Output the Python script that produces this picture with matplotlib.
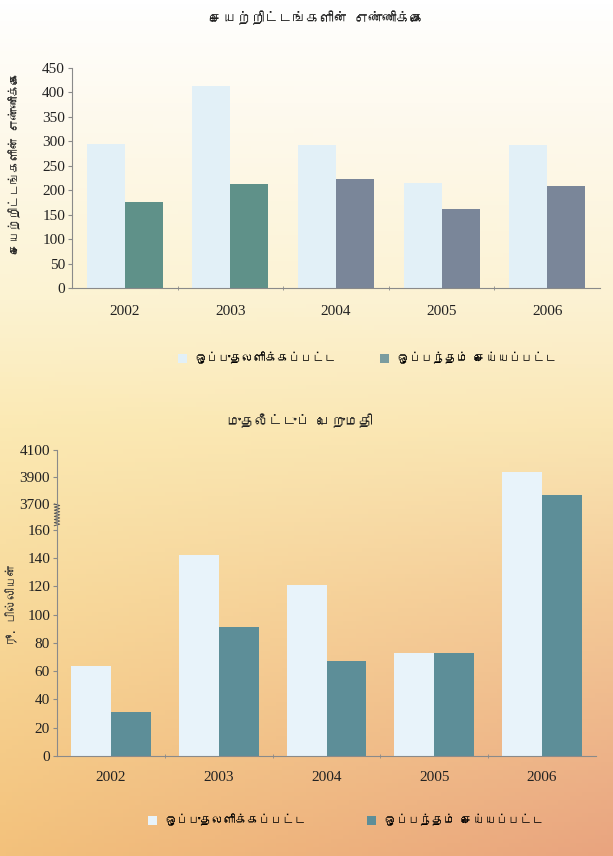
import numpy as np
import matplotlib
matplotlib.use('Agg')
import matplotlib.pyplot as plt
from matplotlib import font_manager
from matplotlib.ft2font import FT2Font
from matplotlib.colors import to_rgb

# data
years = ['2002', '2003', '2004', '2005', '2006']
approved_count = [295, 413, 292, 215, 293]
signed_count = [175, 212, 222, 161, 209]
approved_value = [64, 142, 121, 73, 3940]
signed_value = [31, 91, 67, 73, 3770]
count_ticks = [0, 50, 100, 150, 200, 250, 300, 350, 400, 450]
value_ticks = [0, 20, 40, 60, 80, 100, 120, 140, 160, 3700, 3900, 4100]

title_top = 'செயற்றிட்டங்களின் எண்ணிக்கை'
ylabel_top = 'செயற்றிட்டங்களின் எண்ணிக்கை'
title_bottom = 'முதலீட்டுப் பெறுமதி'
ylabel_bottom = 'ரூ. பில்லியன்'
label_approved = 'ஒப்புதலளிக்கப்பட்ட'
label_signed = 'ஒப்பந்தம் செய்யப்பட்ட'


def find_tamil_font():
    for f in font_manager.fontManager.ttflist:
        try:
            if 0x0B9A in FT2Font(f.fname).get_charmap():
                return f.name
        except Exception:
            pass
    return None


tamil = find_tamil_font()
tfam = [tamil, 'DejaVu Sans'] if tamil else ['DejaVu Sans']
num_font = 'Liberation Serif'

# broken y scale for the bottom chart
LOW_TOP = 170.0
BRK = 178.4
SLOPE = 0.0955


def fwd(v):
    v = np.asarray(v, float)
    return np.where(v <= LOW_TOP, v,
                    np.where(v < 3700, LOW_TOP + (v - LOW_TOP) * (BRK - LOW_TOP) / (3700 - LOW_TOP),
                             BRK + (v - 3700) * SLOPE))


def inv(u):
    u = np.asarray(u, float)
    return np.where(u <= LOW_TOP, u,
                    np.where(u < BRK, LOW_TOP + (u - LOW_TOP) * (3700 - LOW_TOP) / (BRK - LOW_TOP),
                             3700 + (u - BRK) / SLOPE))


fig = plt.figure(figsize=(6.13, 8.56), dpi=100)

# page background gradient
bg = fig.add_axes([0, 0, 1, 1], zorder=-5)
bg.axis('off')
stops = [0, 0.12, 0.35, 0.5, 0.7, 1.0]
left_cols = ['#ffffff', '#fefaef', '#fcf3d2', '#fbe9b3', '#f8da9b', '#f3c17b']
right_cols = ['#ffffff', '#fefaf0', '#fcf2d3', '#fae6b4', '#f4ca98', '#e9a47f']
rows = np.linspace(0, 1, 200)
L = np.array([np.interp(rows, stops, [to_rgb(c)[k] for c in left_cols]) for k in range(3)]).T
R = np.array([np.interp(rows, stops, [to_rgb(c)[k] for c in right_cols]) for k in range(3)]).T
cols = np.linspace(0, 1, 100)[None, :, None]
img = L[:, None, :] * (1 - cols) + R[:, None, :] * cols
bg.imshow(img, aspect='auto', extent=[0, 1, 1, 0])
bg.set_xlim(0, 1)
bg.set_ylim(1, 0)

x = np.arange(len(years))


def style_axes(ax, xpad):
    ax.set_facecolor('none')
    for s in ['top', 'right']:
        ax.spines[s].set_visible(False)
    for s in ['left', 'bottom']:
        ax.spines[s].set_color('#8a8a8a')
        ax.spines[s].set_linewidth(0.8)
    ax.set_xlim(-0.5, len(years) - 0.5)
    ax.set_xticks(x)
    ax.set_xticklabels(years, fontfamily=num_font, fontsize=11, color='#222222')
    ax.tick_params(axis='x', length=0, pad=xpad)
    ax.set_xticks(x[:-1] + 0.5, minor=True)
    ax.tick_params(axis='x', which='minor', length=3, direction='inout', color='#8a8a8a')
    ax.tick_params(axis='y', length=3, color='#8a8a8a', labelsize=11, labelcolor='#222222', pad=2)
    for lab in ax.get_yticklabels():
        lab.set_fontfamily(num_font)


# top chart: number of projects
ax1 = fig.add_axes([72 / 613, 1 - 288 / 856, 528 / 613, 220 / 856])
w1 = 0.36
top_dark = ['#5f9189', '#5f9189', '#7a8699', '#7a8699', '#7a8699']
b1 = ax1.bar(x - w1 / 2, approved_count, w1, color='#e2f0f7')
b2 = ax1.bar(x + w1 / 2, signed_count, w1, color=top_dark)
ax1.set_ylim(0, 450)
ax1.set_yticks(count_ticks)
style_axes(ax1, 12)
fig.text(317 / 613, 1 - 18 / 856, title_top, ha='center', va='center', fontsize=10, family=tfam, color='#222222')
fig.text(15 / 613, 1 - 163 / 856, ylabel_top, ha='center', va='center', rotation=90, fontsize=8.5,
         family=tfam, color='#222222')

leg_kw = dict(frameon=False, handlelength=0.8, handleheight=0.8, handletextpad=0.7,
              prop={'family': tfam, 'size': 8.5}, loc='center left', borderaxespad=0, borderpad=0)
fig.legend([b1[0]], [label_approved], bbox_to_anchor=(178 / 613, 1 - 358 / 856), **leg_kw)
fig.legend([b2[2]], [label_signed], bbox_to_anchor=(380 / 613, 1 - 358 / 856), **leg_kw)
fig.legends[-1].legend_handles[0].set_facecolor('#7a9c9f')

# bottom chart: investment value
ax2 = fig.add_axes([57 / 613, 1 - 756 / 856, 539 / 613, 306 / 856])
ax2.set_yscale('function', functions=(fwd, inv))
w2 = 0.37
b3 = ax2.bar(x - w2 / 2, approved_value, w2, color='#e8f3fa')
b4 = ax2.bar(x + w2 / 2, signed_value, w2, color='#5d8e98')
ax2.set_ylim(0, 4100)
ax2.set_yticks(value_ticks)
ax2.set_yticklabels([str(t) for t in value_ticks])
style_axes(ax2, 11)

# axis break zigzag between 160 and 3700
zz = inv(np.linspace(float(fwd(163)), float(fwd(3700)), 15))
zx = np.where(np.arange(len(zz)) % 2 == 0, -0.005, 0.005)
ax2.plot(zx, zz, color='#555555', lw=0.7, transform=ax2.get_yaxis_transform(), clip_on=False)

fig.text(300 / 613, 1 - 421 / 856, title_bottom, ha='center', va='center', fontsize=10, family=tfam,
         color='#222222')
fig.text(12 / 613, 1 - 605 / 856, ylabel_bottom, ha='center', va='center', rotation=90, fontsize=8.5,
         family=tfam, color='#333333')
fig.legend([b3[0]], [label_approved], bbox_to_anchor=(148 / 613, 1 - 820 / 856), **leg_kw)
fig.legend([b4[0]], [label_signed], bbox_to_anchor=(367 / 613, 1 - 820 / 856), **leg_kw)

fig.savefig('out.png', dpi=100)
